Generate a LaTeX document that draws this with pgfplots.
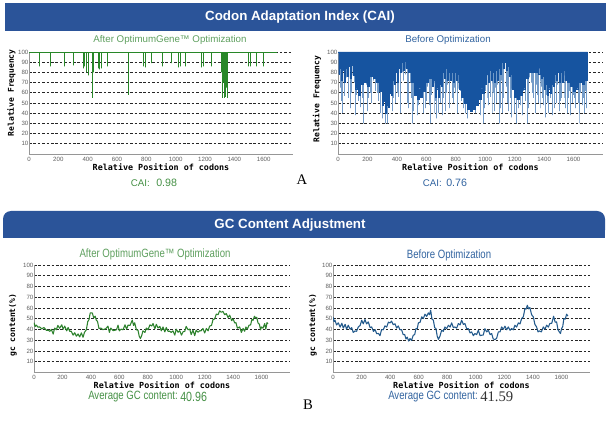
\documentclass[border=0pt]{standalone}
\usepackage{fontspec}
\setmainfont{Liberation Sans}
\newfontfamily\monof{DejaVu Sans Mono}
\newfontfamily\serf{Liberation Serif}
\usepackage{pgfplots}
\pgfplotsset{compat=1.18}
\definecolor{banner}{RGB}{43,84,153}
\definecolor{tgreen}{RGB}{95,160,95}
\definecolor{cgreen}{RGB}{70,145,70}
\definecolor{tblue}{RGB}{50,100,160}
\definecolor{bdark}{RGB}{22,84,160}
\definecolor{blight}{RGB}{115,155,200}
\definecolor{sgreen}{RGB}{40,135,40}
\definecolor{lgreen}{RGB}{45,130,45}
\definecolor{lblue}{RGB}{35,90,140}
\definecolor{tickgray}{RGB}{95,95,95}
\definecolor{axgray}{RGB}{150,150,150}
\pgfplotsset{
  panel/.style={
    scale only axis, anchor=south west,
    axis x line*=bottom, axis y line*=left,
    axis line style={draw=axgray, line width=0.6pt, -},
    xmin=0, xmax=1800, ymin=0, ymax=100,
    xtick={0,200,...,1600}, ytick={10,20,...,100},
    ymajorgrids,
    grid style={draw=black!85, line width=0.55pt, dash pattern=on 2pt off 1.3pt},
    major tick length=0pt,
    tick style={draw=none},
    /pgf/number format/assume math mode=true,
    /pgf/number format/1000 sep={},
    scaled ticks=false,
    tick label style={font=\fontsize{4.6}{5}\selectfont, text=tickgray},
    xticklabel style={anchor=north, inner sep=0pt, yshift=-2pt},
    yticklabel style={anchor=east, inner sep=0pt, xshift=-0.3pt},
    xlabel style={font=\monof\bfseries\fontsize{6.3}{7}\selectfont, anchor=center},
    ylabel style={font=\monof\bfseries\fontsize{6}{7}\selectfont, anchor=center},
  }
}
\begin{document}
\begin{tikzpicture}
\useasboundingbox (0,0) rectangle (454.5pt,-325.5pt);
\fill[white] (0,0) rectangle (454.5pt,-325.5pt);
% banners
\fill[banner] (3.75pt,-2.25pt) rectangle (454.5pt,-23.25pt);
\node[text=white, font=\bfseries\fontsize{10}{12}\selectfont] at (225pt,-12.75pt) {Codon Adaptation Index (CAI)};
\fill[banner, rounded corners=6pt] (2.25pt,-158.25pt) rectangle (453.75pt,-178.5pt);
\fill[banner] (2.25pt,-168pt) rectangle (453.75pt,-178.5pt);
\node[text=white, font=\bfseries\fontsize{10}{12}\selectfont] at (217.5pt,-168.75pt) {GC Content Adjustment};
% subtitles
\node[text=tgreen, font=\fontsize{7.3}{9}\selectfont] at (127.5pt,-30pt) {After OptimumGene™ Optimization};
\node[text=tblue, font=\fontsize{7.3}{9}\selectfont] at (336pt,-30pt) {Before Optimization};
\node[text=tgreen, font=\fontsize{9}{11}\selectfont] at (116.25pt,-190.5pt) {\scalebox{0.8}[1]{After OptimumGene™ Optimization}};
\node[text=tblue, font=\fontsize{9}{11}\selectfont] at (336.75pt,-191.25pt) {\scalebox{0.8}[1]{Before Optimization}};

% ---------- top left: CAI after
\begin{axis}[panel, at={(21.75pt,-115.5pt)}, width=198pt, height=76.5pt,
  xlabel={Relative Position of codons}, ylabel={Relative Frequency},
  xlabel style={at={(axis description cs:0.5,-0.127)}},
  ylabel style={at={(axis description cs:-0.066,0.6)}}]
\addplot[sgreen, line width=0.55pt, line join=bevel, mark=none] coordinates {
(0,100)(73,100)(73,86)(73,100)(148,100)(148,86)(148,100)(244,100)(244,86)(244,100)
(301,100)(301,87)(301,100)(369,100)(369,84)(369,100)(380,100)(380,86)(380,100)
(392,100)(392,80)(392,100)(403,100)(403,77)(403,100)(431,100)(431,55)(431,100)
(437,100)(437,80)(437,100)(472,100)(472,84)(472,100)(478,100)(478,86)(478,100)
(483,100)(483,83)(483,100)(490,100)(490,84)(490,100)(531,100)(531,86)(531,100)
(677,100)(677,58)(677,100)(779,100)(779,86)(779,100)(795,100)(795,85)(795,100)
(832,100)(832,89)(832,100)(909,100)(909,86)(909,100)(969,100)(969,89)(969,100)
(1019,100)(1019,85)(1019,100)(1030,100)(1030,86)(1030,100)(1069,100)(1069,86)(1069,100)
(1174,100)(1174,85)(1174,100)(1188,100)(1188,86)(1188,100)(1242,100)(1242,86)(1242,100)
(1310,100)(1310,80)(1310,100)(1320,100)(1320,55)(1320,100)(1326,100)(1326,70)(1326,100)
(1333,100)(1333,55)(1333,100)(1338,100)(1338,78)(1338,100)(1342,100)(1342,56)(1342,100)
(1348,100)(1348,65)(1348,100)(1352,100)(1352,55)(1352,100)(1493,100)(1493,86)(1493,100)
(1509,100)(1509,86)(1509,100)(1547,100)(1547,86)(1547,100)(1600,100)(1600,86)(1600,100)
(1690,100)};
\end{axis}

% ---------- top right: CAI before
\begin{axis}[panel, at={(253.5pt,-115.5pt)}, width=198.75pt, height=76.5pt,
  xlabel={Relative Position of codons}, ylabel={Relative Frequency},
  xlabel style={at={(axis description cs:0.5,-0.127)}},
  ylabel style={at={(axis description cs:-0.079,0.54)}}]
\addplot[blight, line width=0.5pt, line join=bevel, mark=none] coordinates {
(15,100)(15,65)(15,100)(22,100)(22,52)(22,100)(32,100)(32,40)(32,100)(45,100)(45,57)(45,100)
(58,100)(58,75)(58,100)(70,100)(70,55)(70,100)(85,100)(85,45)(85,100)(93,100)(93,60)(93,100)
(110,100)(110,70)(110,100)(118,100)(118,38)(118,100)(127,100)(127,58)(127,100)(138,100)(138,52)(138,100)
(150,100)(150,46)(150,100)(162,100)(162,55)(162,100)(173,100)(173,30)(173,100)(190,100)(190,68)(190,100)
(198,100)(198,42)(198,100)(207,100)(207,55)(207,100)(218,100)(218,60)(218,100)(229,100)(229,50)(229,100)
(240,100)(240,72)(240,100)(252,100)(252,62)(252,100)(265,100)(265,60)(265,100)(275,100)(275,52)(275,100)
(286,100)(286,40)(286,100)(298,100)(298,35)(298,100)(310,100)(310,70)(310,100)(322,100)(322,30)(322,100)
(336,100)(336,30)(336,100)(345,100)(345,48)(345,100)(355,100)(355,65)(355,100)(366,100)(366,42)(366,100)
(377,100)(377,55)(377,100)(388,100)(388,50)(388,100)(400,100)(400,60)(400,100)(412,100)(412,56)(412,100)
(422,100)(422,40)(422,100)(435,100)(435,80)(435,100)(445,100)(445,72)(445,100)(458,100)(458,78)(458,100)
(468,100)(468,50)(468,100)(480,100)(480,45)(480,100)(490,100)(490,70)(490,100)(498,100)(498,55)(498,100)
(508,100)(508,30)(508,100)(515,100)(515,42)(515,100)(525,100)(525,62)(525,100)(536,100)(536,38)(536,100)
(547,100)(547,48)(547,100)(560,100)(560,70)(560,100)(570,100)(570,55)(570,100)(580,100)(580,40)(580,100)
(592,100)(592,45)(592,100)(600,100)(600,52)(600,100)(610,100)(610,66)(610,100)(618,100)(618,48)(618,100)
(627,100)(627,30)(627,100)(636,100)(636,58)(636,100)(645,100)(645,70)(645,100)(652,100)(652,40)(652,100)
(660,100)(660,52)(660,100)(670,100)(670,35)(670,100)(683,100)(683,40)(683,100)(692,100)(692,50)(692,100)
(700,100)(700,72)(700,100)(706,100)(706,38)(706,100)(718,100)(718,55)(718,100)(729,100)(729,42)(729,100)
(737,100)(737,60)(737,100)(745,100)(745,68)(745,100)(758,100)(758,45)(758,100)(774,100)(774,55)(774,100)
(782,100)(782,50)(782,100)(790,100)(790,65)(790,100)(797,100)(797,60)(797,100)(808,100)(808,40)(808,100)
(820,100)(820,70)(820,100)(830,100)(830,62)(830,100)(840,100)(840,52)(840,100)(854,100)(854,45)(854,100)
(862,100)(862,40)(862,100)(870,100)(870,68)(870,100)(878,100)(878,35)(878,100)(888,100)(888,50)(888,100)
(898,100)(898,55)(898,100)(910,100)(910,62)(910,100)(920,100)(920,45)(920,100)(933,100)(933,40)(933,100)
(945,100)(945,48)(945,100)(955,100)(955,66)(955,100)(966,100)(966,38)(966,100)(975,100)(975,55)(975,100)
(985,100)(985,30)(985,100)(995,100)(995,45)(995,100)(1000,100)(1000,62)(1000,100)(1012,100)(1012,55)(1012,100)
(1022,100)(1022,48)(1022,100)(1030,100)(1030,70)(1030,100)(1038,100)(1038,56)(1038,100)(1046,100)(1046,40)(1046,100)
(1058,100)(1058,60)(1058,100)(1065,100)(1065,42)(1065,100)(1070,100)(1070,65)(1070,100)(1078,100)(1078,50)(1078,100)
(1085,100)(1085,68)(1085,100)(1096,100)(1096,30)(1096,100)(1104,100)(1104,45)(1104,100)(1110,100)(1110,72)(1110,100)
(1118,100)(1118,40)(1118,100)(1126,100)(1126,55)(1126,100)(1140,100)(1140,66)(1140,100)(1150,100)(1150,50)(1150,100)
(1160,100)(1160,42)(1160,100)(1170,100)(1170,55)(1170,100)(1180,100)(1180,36)(1180,100)(1190,100)(1190,66)(1190,100)
(1200,100)(1200,40)(1200,100)(1212,100)(1212,30)(1212,100)(1225,100)(1225,45)(1225,100)(1239,100)(1239,48)(1239,100)
(1250,100)(1250,38)(1250,100)(1260,100)(1260,62)(1260,100)(1270,100)(1270,52)(1270,100)(1285,100)(1285,30)(1285,100)
(1295,100)(1295,45)(1295,100)(1300,100)(1300,75)(1300,100)(1310,100)(1310,70)(1310,100)(1320,100)(1320,60)(1320,100)
(1330,100)(1330,55)(1330,100)(1338,100)(1338,40)(1338,100)(1345,100)(1345,68)(1345,100)(1355,100)(1355,58)(1355,100)
(1364,100)(1364,50)(1364,100)(1372,100)(1372,45)(1372,100)(1380,100)(1380,66)(1380,100)(1390,100)(1390,55)(1390,100)
(1398,100)(1398,48)(1398,100)(1405,100)(1405,36)(1405,100)(1415,100)(1415,58)(1415,100)(1425,100)(1425,50)(1425,100)
(1432,100)(1432,40)(1432,100)(1442,100)(1442,55)(1442,100)(1450,100)(1450,60)(1450,100)(1458,100)(1458,38)(1458,100)
(1466,100)(1466,45)(1466,100)(1478,100)(1478,70)(1478,100)(1485,100)(1485,50)(1485,100)(1490,100)(1490,68)(1490,100)
(1500,100)(1500,62)(1500,100)(1506,100)(1506,42)(1506,100)(1512,100)(1512,52)(1512,100)(1520,100)(1520,55)(1520,100)
(1525,100)(1525,70)(1525,100)(1535,100)(1535,55)(1535,100)(1545,100)(1545,45)(1545,100)(1557,100)(1557,40)(1557,100)
(1562,100)(1562,55)(1562,100)(1570,100)(1570,62)(1570,100)(1580,100)(1580,38)(1580,100)(1591,100)(1591,50)(1591,100)
(1600,100)(1600,58)(1600,100)(1608,100)(1608,55)(1608,100)(1614,100)(1614,45)(1614,100)(1625,100)(1625,66)(1625,100)
(1632,100)(1632,50)(1632,100)(1637,100)(1637,30)(1637,100)(1642,100)(1642,40)(1642,100)(1648,100)(1648,60)(1648,100)
(1659,100)(1659,48)(1659,100)(1665,100)(1665,55)(1665,100)(1671,100)(1671,40)(1671,100)(1680,100)(1680,62)(1680,100)
(1686,100)(1686,45)(1686,100)};
\addplot[const plot, fill=bdark, draw=bdark, line width=0.3pt, mark=none] coordinates {
(0,100)(5,78)(10,84)(20,72)(30,82)(40,70)(50,84)(60,76)(70,86)(80,74)(90,87)(100,77)
(110,82)(120,64)(130,74)(140,58)(150,76)(160,68)(170,82)(180,70)(190,80)(200,66)
(210,86)(220,76)(230,88)(240,74)(250,84)(260,70)(270,78)(280,62)(290,62)(300,48)
(310,52)(320,40)(330,48)(340,46)(350,60)(360,58)(370,72)(380,68)(390,80)(400,70)
(410,84)(420,80)(430,90)(440,82)(450,91)(460,84)(470,90)(480,80)(490,84)(500,70)
(510,74)(520,58)(530,66)(540,54)(550,64)(560,56)(570,68)(580,62)(590,76)(600,70)
(610,84)(620,74)(630,80)(640,66)(650,72)(660,56)(670,64)(680,56)(690,68)(700,66)
(710,80)(720,74)(730,84)(740,72)(750,80)(760,72)(770,80)(780,70)(790,80)(800,72)
(810,78)(820,64)(830,70)(840,56)(850,62)(860,50)(870,56)(880,44)(890,50)(900,42)
(910,48)(920,44)(930,52)(940,48)(950,58)(960,54)(970,64)(980,60)(990,70)(1000,68)
(1010,78)(1020,70)(1030,82)(1040,72)(1050,80)(1060,70)(1070,82)(1080,72)(1090,84)
(1100,78)(1110,90)(1120,84)(1130,90)(1140,82)(1150,86)(1160,76)(1170,78)(1180,64)
(1190,68)(1200,56)(1210,62)(1220,54)(1230,62)(1240,58)(1250,68)(1260,64)(1270,78)
(1280,74)(1290,86)(1300,80)(1310,88)(1320,80)(1330,88)(1340,80)(1350,86)(1360,78)
(1370,84)(1380,74)(1390,76)(1400,64)(1410,68)(1420,58)(1430,64)(1440,60)(1450,68)
(1460,66)(1470,78)(1480,72)(1490,80)(1500,70)(1510,80)(1520,70)(1530,82)(1540,72)
(1550,80)(1560,70)(1570,78)(1580,66)(1590,72)(1600,62)(1610,72)(1620,64)(1630,76)
(1640,70)(1650,78)(1660,68)(1670,80)(1680,72)(1690,80)(1695,100)};
\end{axis}

% ---------- bottom left: GC after
\begin{axis}[panel, at={(25.5pt,-279.3pt)}, width=192pt, height=80.55pt,
  xlabel={Relative Position of codons}, ylabel={gc content(\%)},
  xlabel style={at={(axis description cs:0.5,-0.117)}},
  ylabel style={at={(axis description cs:-0.082,0.44)}}]
\addplot[lgreen, line width=0.8pt, line join=round, mark=none] coordinates {
(0,46.3)(8,42.7)(16,44.0)(28,42.2)(40,42.3)(55,40.5)(70,41.8)(87,39.2)(100,39.3)(112,38.2)
(122,40.0)(135,35.7)(145,41.3)(157,39.7)(168,43.8)(180,41.1)(195,44.3)(205,40.2)(216,43.1)
(230,38.7)(240,41.8)(251,38.3)(262,38.3)(275,34.7)(286,36.9)(298,33.7)(310,35.8)(321,33.0)
(333,36.8)(345,32.7)(355,37.3)(368,39.7)(378,47.3)(387,49.2)(395,55.3)(403,55.4)(410,55.3)
(420,50.7)(430,52.3)(438,48.7)(447,47.3)(457,40.7)(470,41.3)(485,39.7)(495,40.3)(505,40.7)
(520,43.1)(530,37.2)(540,41.3)(556,38.9)(570,39.3)(580,39.7)(591,44.0)(600,38.7)(613,40.3)
(626,39.7)(640,44.3)(651,40.2)(661,44.0)(675,43.7)(691,48.7)(700,43.7)(708,46.2)(720,39.7)
(731,39.3)(740,33.7)(748,31.5)(757,34.2)(766,38.7)(780,37.2)(790,41.3)(802,39.7)(815,44.3)
(828,43.2)(837,45.5)(850,40.7)(860,44.8)(872,41.4)(885,42.8)(895,38.7)(907,42.3)(920,37.7)
(930,41.8)(942,38.3)(955,38.3)(965,37.2)(977,38.7)(990,34.7)(1000,40.3)(1013,37.4)
(1025,38.8)(1037,34.7)(1048,37.8)(1060,38.2)(1070,42.8)(1083,39.7)(1095,40.3)(1105,35.2)
(1118,39.3)(1130,34.2)(1140,39.3)(1153,37.4)(1165,38.8)(1175,38.7)(1188,40.9)(1200,36.7)
(1212,40.9)(1224,38.7)(1235,43.1)(1248,43.7)(1259,49.3)(1270,49.7)(1282,54.3)(1294,53.7)
(1305,57.3)(1317,56.0)(1328,56.8)(1341,53.7)(1352,54.8)(1364,51.2)(1376,53.3)(1390,48.2)
(1400,49.8)(1411,46.1)(1420,46.3)(1430,41.2)(1446,42.3)(1458,37.2)(1470,40.9)(1481,38.3)
(1490,42.3)(1500,40.2)(1512,44.0)(1523,44.2)(1532,49.3)(1540,48.5)(1550,52.3)(1559,50.7)
(1566,51.3)(1575,46.1)(1585,44.8)(1593,39.7)(1599,42.3)(1610,41.2)(1622,45.5)(1630,40.2)
(1638,46.3)(1646,45.4)};
\end{axis}

% ---------- bottom right: GC before
\begin{axis}[panel, at={(249.75pt,-279.3pt)}, width=192.75pt, height=80.55pt,
  xlabel={Relative Position of codons}, ylabel={gc content(\%)},
  xlabel style={at={(axis description cs:0.5,-0.117)}},
  ylabel style={at={(axis description cs:-0.078,0.44)}}]
\addplot[lblue, line width=0.8pt, line join=round, mark=none] coordinates {
(0,51.7)(7,47.2)(14,48.6)(25,44.2)(37,46.1)(50,42.2)(62,45.8)(72,41.3)(85,44.8)(95,40.2)
(107,43.9)(120,40.2)(131,41.7)(142,37.2)(154,38.6)(165,38.2)(177,42.3)(190,43.7)(201,48.6)
(212,45.2)(224,49.2)(235,45.2)(247,47.0)(260,41.7)(271,42.3)(283,38.2)(295,39.8)(306,36.0)
(318,36.3)(329,34.2)(340,39.8)(352,39.7)(364,43.3)(376,42.2)(388,46.8)(399,46.0)(410,47.8)
(422,44.4)(434,45.3)(446,41.3)(457,43.3)(469,39.7)(480,39.8)(492,35.1)(502,35.3)(511,31.1)
(520,32.8)(530,29.2)(539,31.5)(550,29.7)(562,34.6)(572,35.2)(581,40.8)(590,40.7)(598,46.1)
(610,46.7)(621,51.7)(633,50.2)(644,54.2)(656,52.2)(668,55.4)(676,53.7)(684,57.9)(693,49.7)
(703,48.6)(712,41.7)(721,40.8)(730,33.7)(738,30.8)(749,33.7)(761,39.3)(772,38.2)(784,42.3)
(796,40.7)(808,43.9)(820,42.2)(831,46.1)(843,41.7)(854,42.3)(866,41.2)(878,45.5)(890,44.2)
(901,48.6)(913,44.7)(924,45.5)(936,40.7)(948,40.8)(960,36.7)(971,37.7)(983,34.2)(994,36.2)
(1006,35.2)(1018,39.3)(1030,34.2)(1041,34.6)(1052,34.7)(1064,40.8)(1076,37.7)(1088,39.3)
(1100,35.2)(1111,36.2)(1122,31.2)(1134,30.5)(1146,31.7)(1158,37.7)(1170,37.7)(1181,42.3)
(1193,40.2)(1204,43.0)(1216,39.7)(1228,42.3)(1240,39.2)(1251,40.8)(1263,39.7)(1274,43.9)
(1286,42.2)(1298,46.1)(1310,45.2)(1321,50.1)(1333,51.7)(1344,59.4)(1352,59.0)(1361,62.5)
(1370,59.2)(1379,60.4)(1391,53.7)(1403,51.7)(1414,44.7)(1426,42.3)(1436,37.7)(1445,38.6)
(1459,37.7)(1473,42.3)(1485,40.2)(1496,43.9)(1508,42.2)(1519,45.5)(1532,45.7)(1545,52.3)
(1556,46.7)(1566,47.0)(1576,39.7)(1585,37.7)(1593,36.2)(1601,40.8)(1609,42.7)(1617,50.1)
(1627,49.7)(1636,54.2)(1645,52.5)};
\end{axis}

% values under the charts
\node[anchor=east, inner sep=0pt, text=cgreen, font=\fontsize{7.3}{9}\selectfont] at (112.5pt,-137.25pt) {CAI:};
\node[anchor=west, inner sep=0pt, text=cgreen, font=\fontsize{8}{9}\selectfont] at (117pt,-137.25pt) {0.98};
\node[anchor=east, inner sep=0pt, text=tblue, font=\fontsize{7.3}{9}\selectfont] at (331.5pt,-137.25pt) {CAI:};
\node[anchor=west, inner sep=0pt, text=tblue, font=\fontsize{8}{9}\selectfont] at (334.5pt,-137.25pt) {0.76};
\node[anchor=east, inner sep=0pt, text=cgreen, font=\fontsize{9}{11}\selectfont] at (133.5pt,-297.75pt) {\scalebox{0.8}[1]{Average GC content:}};
\node[anchor=west, inner sep=0pt, text=cgreen, font=\fontsize{10}{12}\selectfont] at (135pt,-297.75pt) {\scalebox{0.8}[1]{40.96}};
\node[anchor=east, inner sep=0pt, text=tblue, font=\fontsize{9}{11}\selectfont] at (358.5pt,-297.75pt) {\scalebox{0.8}[1]{Average GC content:}};
\node[anchor=west, inner sep=0pt, text=black!80, font=\serf\fontsize{11}{13}\selectfont] at (360pt,-297.75pt) {41.59};
\node[font=\serf\fontsize{11}{13}\selectfont] at (226.5pt,-135pt) {A};
\node[font=\serf\fontsize{11}{13}\selectfont] at (231pt,-303.75pt) {B};
\end{tikzpicture}
\end{document}
